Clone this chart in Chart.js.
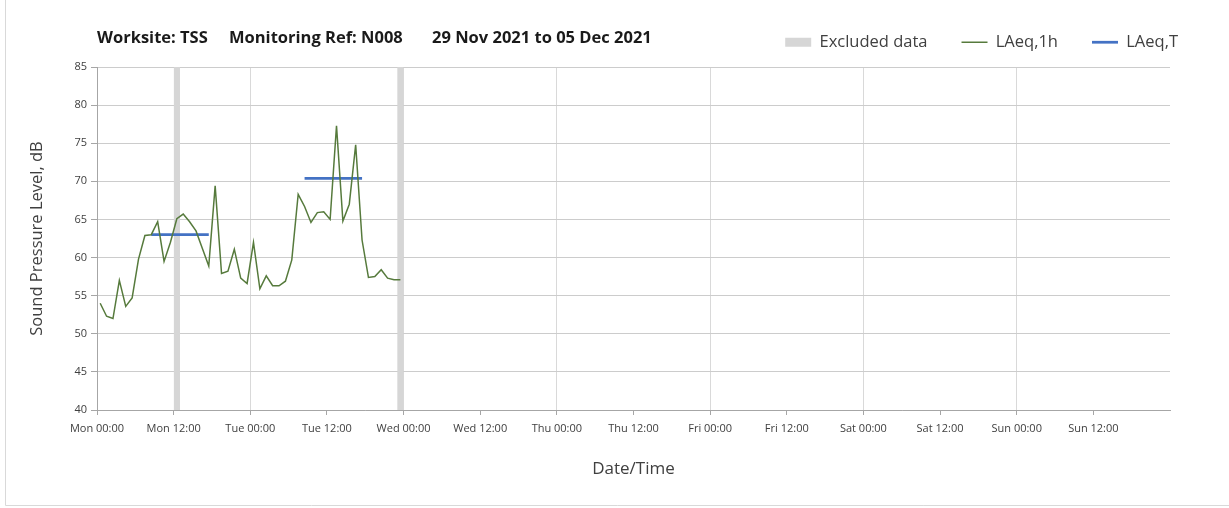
<!DOCTYPE html>
<html><head><meta charset="utf-8">
<script src="https://cdn.jsdelivr.net/npm/chart.js@4.4.1/dist/chart.umd.min.js"></script>
<style>html,body{margin:0;padding:0;background:#fff;}#wrap{width:1229px;height:508px;position:relative;}</style>
</head><body><div id="wrap"><canvas id="c" width="1229" height="508"></canvas></div>
<script>
// ---- data ----
const laeq1h = [54.0, 52.3, 52.0, 57.0, 53.6, 54.7, 59.8, 62.9, 63.0, 64.7,
                59.5, 62.0, 65.1, 65.7, 64.7, 63.5, 61.2, 58.9, 69.4, 57.9,
                58.2, 61.1, 57.3, 56.6, 62.0, 55.9, 57.6, 56.3, 56.3, 56.9,
                59.7, 68.3, 66.7, 64.6, 65.9, 66.0, 65.0, 77.3, 64.8, 67.0,
                74.8, 62.3, 57.4, 57.5, 58.4, 57.3, 57.1, 57.1];
const laeq1hStartHour = 0;          // hour of first value (Mon 00:00)
const laeqTValues = [63.0, 70.4];
const laeqTStart  = [8.5, 32.5];    // hours from Mon 00:00
const laeqTEnd    = [17.5, 41.5];
const excludedStart = [12, 47];     // hours from Mon 00:00
const excludedEnd   = [13, 48];
const xTickLabels = ['Mon 00:00','Mon 12:00','Tue 00:00','Tue 12:00','Wed 00:00','Wed 12:00',
                     'Thu 00:00','Thu 12:00','Fri 00:00','Fri 12:00','Sat 00:00','Sat 12:00',
                     'Sun 00:00','Sun 12:00'];
const yTicks = [40, 45, 50, 55, 60, 65, 70, 75, 80, 85];
const titleParts = ['Worksite: TSS', 'Monitoring Ref: N008', '29 Nov 2021 to 05 Dec 2021'];

// ---- build datasets ----
const lineData = laeq1h.map((v, i) => ({x: laeq1hStartHour + i + 0.5, y: v}));
const tData = [];
laeqTValues.forEach((v, i) => {
  tData.push({x: laeqTStart[i], y: v}, {x: laeqTEnd[i], y: v}, {x: laeqTEnd[i], y: null});
});
const yTop = yTicks[yTicks.length - 1];
const exData = [];
excludedStart.forEach((s, i) => {
  exData.push({x: s, y: yTop}, {x: excludedEnd[i], y: yTop}, {x: excludedEnd[i], y: null});
});

Chart.defaults.font.family = "'Open Sans', sans-serif";
Chart.defaults.color = '#404040';

const headerPlugin = {
  id: 'header',
  afterInit(chart) {
    const lg = chart.legend;
    const origFit = lg.fit;
    lg.fit = function () { origFit.call(this); this.height = 67; };
    const origDraw = lg.draw;
    lg.draw = function () {
      const c = this.ctx; c.save(); c.translate(42, 0); origDraw.call(this); c.restore();
    };
  },
  beforeDraw(chart) {
    const c = chart.ctx;
    c.save();
    c.fillStyle = '#ffffff';
    c.fillRect(0, 0, chart.width, chart.height);
    c.strokeStyle = '#d9d9d9'; c.lineWidth = 1;
    c.beginPath(); c.moveTo(5.5, 0); c.lineTo(5.5, 505.5); c.lineTo(1229, 505.5); c.stroke();
    c.restore();
  },
  afterDraw(chart) {
    const c = chart.ctx;
    c.save();
    c.font = "bold 16.5px 'Open Sans', sans-serif";
    c.fillStyle = '#1a1a1a';
    c.textBaseline = 'middle';
    const xs = [97, 229, 432];
    titleParts.forEach((t, i) => c.fillText(t, xs[i], 38.5));
    c.restore();
  }
};

new Chart(document.getElementById('c'), {
  type: 'line',
  data: {
    datasets: [
      {label: 'Excluded data', data: exData, backgroundColor: '#d6d6d6', borderColor: '#d6d6d6',
       borderWidth: 0, pointRadius: 0, fill: 'start', pointStyle: 'rect', spanGaps: false, order: 3},
      {label: 'LAeq,1h', data: lineData, borderColor: '#567a3c', backgroundColor: '#567a3c',
       borderWidth: 1.5, pointRadius: 0, fill: false, pointStyle: 'line', tension: 0, order: 1},
      {label: 'LAeq,T', data: tData, borderColor: '#4472c4', backgroundColor: '#4472c4',
       borderWidth: 2.75, pointRadius: 0, fill: false, pointStyle: 'line', spanGaps: false, order: 2}
    ]
  },
  options: {
    responsive: false,
    animation: false,
    devicePixelRatio: 1,
    events: [],
    layout: {padding: {top: 0, left: 5, right: 59, bottom: 0}},
    plugins: {
      legend: {
        position: 'top', align: 'end',
        labels: {
          usePointStyle: true, pointStyleWidth: 26, boxHeight: 9, padding: 34,
          font: {size: 16.5}, color: '#404040',
          sort: (a, b) => a.datasetIndex - b.datasetIndex
        }
      },
      title: {display: false},
      tooltip: {enabled: false}
    },
    scales: {
      x: {
        type: 'linear', min: 0, max: 168,
        afterFit: s => { s.height = 98; },
        ticks: {
          stepSize: 12, autoSkip: false, maxRotation: 0, padding: 7,
          font: {size: 11}, color: '#404040',
          callback: v => (v % 12 === 0 && xTickLabels[v / 12] !== undefined) ? xTickLabels[v / 12] : null
        },
        grid: {
          color: ctx => (ctx.tick && ctx.tick.value % 24 === 0) ? '#d9d9d9' : 'rgba(0,0,0,0)',
          tickColor: '#a6a6a6', tickLength: 5, drawTicks: true
        },
        border: {color: '#a6a6a6', width: 1},
        title: {display: true, text: 'Date/Time', font: {size: 17}, color: '#404040',
                padding: {top: 0, bottom: 29}}
      },
      y: {
        min: yTicks[0], max: yTop,
        afterFit: s => { s.width = 92; },
        afterBuildTicks: s => { s.ticks = yTicks.map(v => ({value: v})); },
        ticks: {font: {size: 11}, color: '#404040', padding: 4},
        grid: {color: '#cccccc', tickColor: '#a6a6a6', tickLength: 6},
        border: {color: '#a6a6a6', width: 1},
        title: {display: true, text: 'Sound Pressure Level, dB', font: {size: 16.5}, color: '#404040',
                padding: {top: 22, bottom: 0}}
      }
    }
  },
  plugins: [headerPlugin]
});
</script></body></html>
